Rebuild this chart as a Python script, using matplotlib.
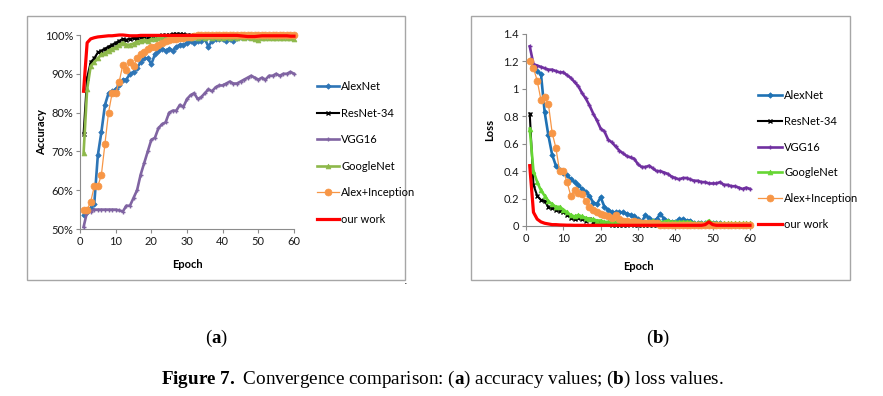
import numpy as np
import matplotlib
matplotlib.use("Agg")
import matplotlib.pyplot as plt
from matplotlib.patches import Rectangle
from matplotlib.ticker import FuncFormatter, MultipleLocator

# ---------------- data ----------------
models = ["AlexNet", "ResNet-34", "VGG16", "GoogleNet", "Alex+Inception", "our work"]

acc_alexnet = [53.5, 54.5, 55.5, 56.5, 69, 75, 82, 85, 85.5, 86,
               87, 88.5, 88.5, 90, 90.5, 91.5, 93, 94, 94, 92.5,
               95, 96, 96.5, 96, 96.5, 96, 97, 97.5, 97.5, 98,
               98.5, 98, 98.5, 98.5, 99, 97, 98.5, 99, 99, 99,
               98.5, 99, 98.5, 99.3, 99.5, 99.5, 99.6, 99.6, 99.5, 99.6,
               99.6, 99.7, 99.7, 99.6, 99.7, 99.7, 99.7, 99.7, 99.7, 99.7]
acc_resnet = [74.5, 89, 93, 94, 95.5, 96, 96.5, 97, 97.5, 98,
              98.5, 99, 98.8, 99, 99.2, 99.3, 99.5, 99.5, 99.6, 99.7,
              99.8, 99.8, 99.9, 100, 100, 100.3, 100.3, 100.3, 100.2, 100.1,
              100, 100, 100, 100, 100, 100, 100, 100, 100, 100,
              100, 100, 100, 100, 100, 100, 100, 100, 100, 100,
              100, 100, 100, 100, 100, 100, 100, 100, 100, 100]
acc_vgg = [50.5, 54.5, 54.5, 55, 55, 55, 55, 55, 55, 55,
           54.8, 54.5, 56, 56, 58, 60, 64, 67, 70, 73,
           73.5, 76, 77, 77.5, 80, 80.5, 80.5, 82, 81.5, 83.5,
           84.5, 85, 83.5, 84, 85, 86, 85.5, 86.5, 87, 87,
           87.5, 88, 87.5, 87.5, 88, 88.5, 89, 89.5, 89, 88.5,
           89, 88.5, 89.5, 89.5, 90, 89.5, 90, 90, 90.5, 90]
acc_google = [69.5, 86, 92, 93, 94, 95, 95.3, 96, 96.5, 96.8,
              97.5, 98, 97.5, 97.5, 97.8, 98.3, 98.5, 98.8, 98.5, 99,
              99, 99.2, 99.3, 99, 99.3, 99.5, 99.3, 99.5, 99.3, 99.5,
              99.3, 99.5, 99.3, 99.5, 99.3, 99.5, 99.3, 99.5, 99.3, 99.3,
              99.5, 99.3, 99.5, 99.3, 99.5, 99.3, 99.5, 99.3, 99.0, 98.8,
              99.3, 99.3, 99.3, 99.3, 99.3, 99.3, 99.3, 99.3, 99.2, 99.0]
acc_alexinc = [55, 55, 57, 61, 61, 64, 72, 80, 85, 85,
               88, 92.3, 91, 93, 92, 94, 95, 95.5, 96.5, 97,
               97, 97.5, 98, 98.5, 98.8, 99, 99, 99.3, 99.3, 99.5,
               99.5, 99.8, 100, 100, 100, 100, 100, 100, 100, 100,
               100, 100, 100, 100, 100, 100, 100, 100, 100, 100,
               100, 100, 100, 100, 100, 100, 100, 100, 100, 100]
acc_ours = [85.5, 98.0, 99.0, 99.3, 99.5, 99.6, 99.7, 99.8, 99.8, 99.9,
            100, 100, 99.9, 99.8, 99.8, 99.8, 99.9, 99.9, 99.9, 99.9,
            99.9, 99.9, 99.9, 99.9, 99.9, 99.9, 99.9, 99.9, 99.9, 99.9,
            99.9, 99.9, 99.9, 99.9, 99.9, 99.9, 99.9, 99.9, 99.9, 99.9,
            99.9, 99.9, 99.9, 99.9, 99.8, 99.7, 99.6, 99.6, 99.6, 99.7,
            99.8, 99.8, 99.8, 99.8, 99.8, 99.8, 99.8, 99.8, 99.7, 99.7]

loss_alexnet = [1.21, 1.17, 1.13, 1.11, 0.83, 0.66, 0.52, 0.44, 0.41, 0.39,
                0.37, 0.34, 0.32, 0.30, 0.27, 0.25, 0.22, 0.17, 0.16, 0.21,
                0.14, 0.12, 0.10, 0.10, 0.10, 0.10, 0.09, 0.08, 0.07, 0.05,
                0.03, 0.08, 0.06, 0.04, 0.05, 0.09, 0.05, 0.04, 0.03, 0.03,
                0.05, 0.05, 0.04, 0.04, 0.02, 0.02, 0.02, 0.02, 0.02, 0.02,
                0.02, 0.02, 0.01, 0.01, 0.01, 0.01, 0.01, 0.01, 0.01, 0.01]
loss_resnet = [0.82, 0.30, 0.22, 0.19, 0.18, 0.14, 0.13, 0.12, 0.11, 0.10,
               0.08, 0.06, 0.05, 0.06, 0.05, 0.04, 0.05, 0.03, 0.03, 0.02,
               0.02, 0.02, 0.01, 0.01, 0.01, 0.01, 0.01, 0.02, 0.01, 0.01,
               0.005, 0.005, 0.005, 0.005, 0.005, 0.005, 0.005, 0.005, 0.005, 0.005,
               0.005, 0.005, 0.005, 0.005, 0.005, 0.005, 0.005, 0.005, 0.005, 0.005,
               0.005, 0.005, 0.005, 0.005, 0.005, 0.005, 0.005, 0.005, 0.005, 0.005]
loss_vgg = [1.31, 1.18, 1.17, 1.16, 1.15, 1.14, 1.14, 1.13, 1.12, 1.12,
            1.10, 1.08, 1.05, 1.02, 0.97, 0.93, 0.88, 0.82, 0.77, 0.71,
            0.69, 0.63, 0.61, 0.58, 0.55, 0.53, 0.51, 0.50, 0.49, 0.45,
            0.43, 0.43, 0.44, 0.42, 0.40, 0.40, 0.39, 0.38, 0.36, 0.35,
            0.34, 0.35, 0.35, 0.34, 0.33, 0.33, 0.32, 0.32, 0.31, 0.31,
            0.31, 0.32, 0.30, 0.30, 0.29, 0.29, 0.28, 0.27, 0.28, 0.27]
loss_google = [0.71, 0.40, 0.32, 0.26, 0.22, 0.18, 0.16, 0.14, 0.14, 0.12,
               0.10, 0.08, 0.07, 0.08, 0.07, 0.06, 0.05, 0.05, 0.04, 0.04,
               0.03, 0.03, 0.03, 0.03, 0.02, 0.02, 0.03, 0.02, 0.02, 0.03,
               0.02, 0.03, 0.03, 0.04, 0.03, 0.03, 0.03, 0.04, 0.03, 0.03,
               0.03, 0.03, 0.03, 0.03, 0.02, 0.02, 0.02, 0.02, 0.04, 0.02,
               0.02, 0.02, 0.02, 0.02, 0.02, 0.02, 0.02, 0.02, 0.02, 0.02]
loss_alexinc = [1.20, 1.15, 1.06, 0.92, 0.94, 0.89, 0.68, 0.57, 0.40, 0.40,
                0.32, 0.22, 0.26, 0.24, 0.23, 0.18, 0.14, 0.12, 0.10, 0.09,
                0.08, 0.07, 0.06, 0.08, 0.05, 0.04, 0.04, 0.03, 0.04, 0.03,
                0.02, 0.02, 0.02, 0.02, 0.02, 0.01, 0.01, 0.01, 0.01, 0.01,
                0.005, 0.005, 0.005, 0.005, 0.005, 0.005, 0.005, 0.005, 0.01, 0.005,
                0.005, 0.005, 0.005, 0.005, 0.005, 0.005, 0.005, 0.005, 0.005, 0.005]
loss_ours = [0.44, 0.10, 0.05, 0.03, 0.02, 0.015, 0.01, 0.01, 0.008, 0.007,
             0.006, 0.006, 0.005, 0.005, 0.005, 0.005, 0.005, 0.005, 0.005, 0.005,
             0.005, 0.005, 0.005, 0.005, 0.005, 0.005, 0.005, 0.005, 0.005, 0.005,
             0.005, 0.005, 0.005, 0.005, 0.005, 0.005, 0.005, 0.005, 0.005, 0.005,
             0.005, 0.005, 0.005, 0.005, 0.005, 0.005, 0.005, 0.01, 0.03, 0.01,
             0.005, 0.005, 0.005, 0.005, 0.005, 0.005, 0.005, 0.005, 0.005, 0.005]

acc_series = [acc_alexnet, acc_resnet, acc_vgg, acc_google, acc_alexinc, acc_ours]
loss_series = [loss_alexnet, loss_resnet, loss_vgg, loss_google, loss_alexinc, loss_ours]

# ---------------- styles ----------------
left_colors = ["#2E75B6", "#000000", "#8064A2", "#8DB84A", "#F79646", "#FF0000"]
right_colors = ["#1F72B4", "#000000", "#7030A0", "#66D633", "#F79646", "#FF0000"]
markers = ["D", "x", "+", "^", "o", None]
msizes = [2.8, 3.5, 3.5, 3.5, 5.0, 0]
lwidths = [1.9, 1.5, 1.9, 1.9, 0.9, 2.3]

W, H = 883, 396
fig = plt.figure(figsize=(W / 100, H / 100), dpi=100)
fig.patch.set_facecolor("white")

tick_font = "Lato"
fs = 8
lfs = 8


def fx(px):
    return px / W


def fy(py):
    return 1 - py / H


def style_axes(ax):
    for s in ["top", "right"]:
        ax.spines[s].set_visible(False)
    for s in ["left", "bottom"]:
        ax.spines[s].set_color("#8c8c8c")
        ax.spines[s].set_linewidth(0.8)
    ax.tick_params(axis="both", direction="out", length=3, width=0.8,
                   color="#8c8c8c", labelsize=fs, pad=2, labelcolor="#1a1a1a")
    for lab in ax.get_xticklabels() + ax.get_yticklabels():
        lab.set_fontfamily(tick_font)
    ax.set_facecolor("none")


def draw(ax, series, colors):
    handles = []
    for i, (name, ys) in enumerate(zip(models, series)):
        x = np.arange(1, len(ys) + 1)
        h, = ax.plot(x, ys, color=colors[i], lw=lwidths[i],
                     marker=markers[i], ms=msizes[i],
                     mew=1.0 if markers[i] in ("x", "+") else 0.5,
                     mec=colors[i], mfc=colors[i],
                     label=name, zorder=2 + i, clip_on=False)
        handles.append(h)
    return handles


# frames
fig.patches.append(Rectangle((fx(27), fy(280)), fx(405) - fx(27), fy(16) - fy(280),
                             transform=fig.transFigure, fill=False,
                             edgecolor="#a6a6a6", lw=1.0))
fig.patches.append(Rectangle((fx(471), fy(280)), fx(850) - fx(471), fy(16) - fy(280),
                             transform=fig.transFigure, fill=False,
                             edgecolor="#a6a6a6", lw=1.0))
fig.text(fx(406), fy(281), ".", fontsize=8, ha="center", va="center")

# ---------- left: accuracy ----------
axL = fig.add_axes([fx(80), fy(229), fx(294) - fx(80), fy(35) - fy(229)])
hL = draw(axL, acc_series, left_colors)
axL.set_xlim(0, 60)
axL.set_ylim(50, 100)
axL.xaxis.set_major_locator(MultipleLocator(10))
axL.yaxis.set_major_locator(MultipleLocator(10))
axL.yaxis.set_major_formatter(FuncFormatter(lambda v, p: f"{v:.0f}%"))
style_axes(axL)
axL.set_xlabel("Epoch", fontsize=fs, fontweight="bold", family=tick_font, labelpad=9)
axL.set_ylabel("Accuracy", fontsize=fs, fontweight="bold", family=tick_font, labelpad=-2)
legL = fig.legend(handles=hL, loc="upper left", bbox_to_anchor=(fx(317), fy(81)),
                  frameon=False, prop={"family": tick_font, "size": lfs},
                  handlelength=2.0, handletextpad=0.2, labelspacing=1.40,
                  borderaxespad=0, borderpad=0, markerscale=1.0)

# ---------- right: loss ----------
axR = fig.add_axes([fx(526), fy(226), fx(750) - fx(526), fy(34) - fy(226)])
hR = draw(axR, loss_series, right_colors)
axR.set_xlim(0, 60)
axR.set_ylim(0, 1.4)
axR.xaxis.set_major_locator(MultipleLocator(10))
axR.yaxis.set_major_locator(MultipleLocator(0.2))
axR.yaxis.set_major_formatter(FuncFormatter(lambda v, p: f"{v:g}"))
style_axes(axR)
axR.set_xlabel("Epoch", fontsize=fs, fontweight="bold", family=tick_font, labelpad=12)
axR.set_ylabel("Loss", fontsize=fs, fontweight="bold", family=tick_font, labelpad=6)
legR = fig.legend(handles=hR, loc="upper left", bbox_to_anchor=(fx(758), fy(90)),
                  frameon=False, prop={"family": tick_font, "size": lfs},
                  handlelength=2.15, handletextpad=0.2, labelspacing=1.33,
                  borderaxespad=0, borderpad=0, markerscale=1.0)

# ---------- captions ----------
plt.rcParams["mathtext.fontset"] = "custom"
plt.rcParams["mathtext.rm"] = "Liberation Serif"
plt.rcParams["mathtext.bf"] = "Liberation Serif:bold"
serif = "Liberation Serif"
fig.text(fx(216), fy(338), r"($\mathbf{a}$)", fontsize=13.5, family=serif,
         ha="center", va="center")
fig.text(fx(658), fy(338), r"($\mathbf{b}$)", fontsize=13.5, family=serif,
         ha="center", va="center")
fig.text(fx(442), fy(379),
         r"$\mathbf{Figure}$ $\mathbf{7.}$ Convergence comparison: ($\mathbf{a}$) accuracy values; ($\mathbf{b}$) loss values.",
         fontsize=13.8, family=serif, ha="center", va="center")

fig.savefig("out.png", dpi=100)
